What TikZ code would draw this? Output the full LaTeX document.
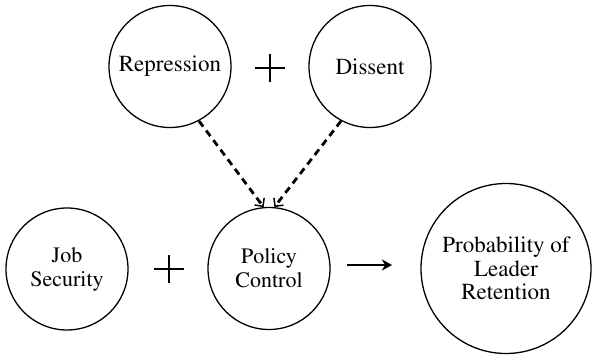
\documentclass[tikz,border=0pt]{standalone}
\usepackage[T1]{fontenc}
\usepackage{times}
\usetikzlibrary{arrows.meta}
\begin{document}
\begin{tikzpicture}[x=1pt,y=-1pt,
  bubble/.style={draw, circle, line width=1.3pt, inner sep=0pt, align=center,
    font=\fontsize{22}{24}\selectfont},
  plusmark/.style={line width=2.8pt},
  influence/.style={line width=2.8pt, dash pattern=on 7pt off 5pt,
    -{Straight Barb[length=6pt,width=12pt,line width=1.5pt]}},
  effect/.style={line width=2.6pt, -{Stealth[length=10pt,width=11pt,inset=3pt]}}
]
\useasboundingbox (0,0) rectangle (592,358);
% top row
\node[bubble, minimum size=122pt, font=\fontsize{23}{25}\selectfont] (rep) at (170,66.5) {Repression};
\node[bubble, minimum size=122pt, font=\fontsize{23}{25}\selectfont] (dis) at (370,66.5) {Dissent};
\coordinate (p1) at (270,68);
\draw[plusmark] ([xshift=-15pt]p1) -- ([xshift=15pt]p1);
\draw[plusmark] ([yshift=-14pt]p1) -- ([yshift=14pt]p1);
% bottom row
\node[bubble, minimum size=122pt] (job) at (67,269) {Job\\Security};
\node[bubble, minimum size=122pt] (pol) at (269,268.5) {Policy\\Control};
\node[bubble, minimum size=170pt, font=\fontsize{23}{23.5}\selectfont] (prob) at (506,268.5) {Probability of\\Leader\\Retention};
\coordinate (p2) at (169,269);
\draw[plusmark] ([xshift=-15pt]p2) -- ([xshift=15pt]p2);
\draw[plusmark] ([yshift=-14pt]p2) -- ([yshift=14pt]p2);
% connectors
\draw[influence] (rep.-62) -- (pol.95);
\draw[influence] (dis.-118) -- (pol.85);
\coordinate (aS) at (347,265);
\coordinate (aE) at (392,265);
\draw[effect] (aS) -- (aE);
\end{tikzpicture}
\end{document}
